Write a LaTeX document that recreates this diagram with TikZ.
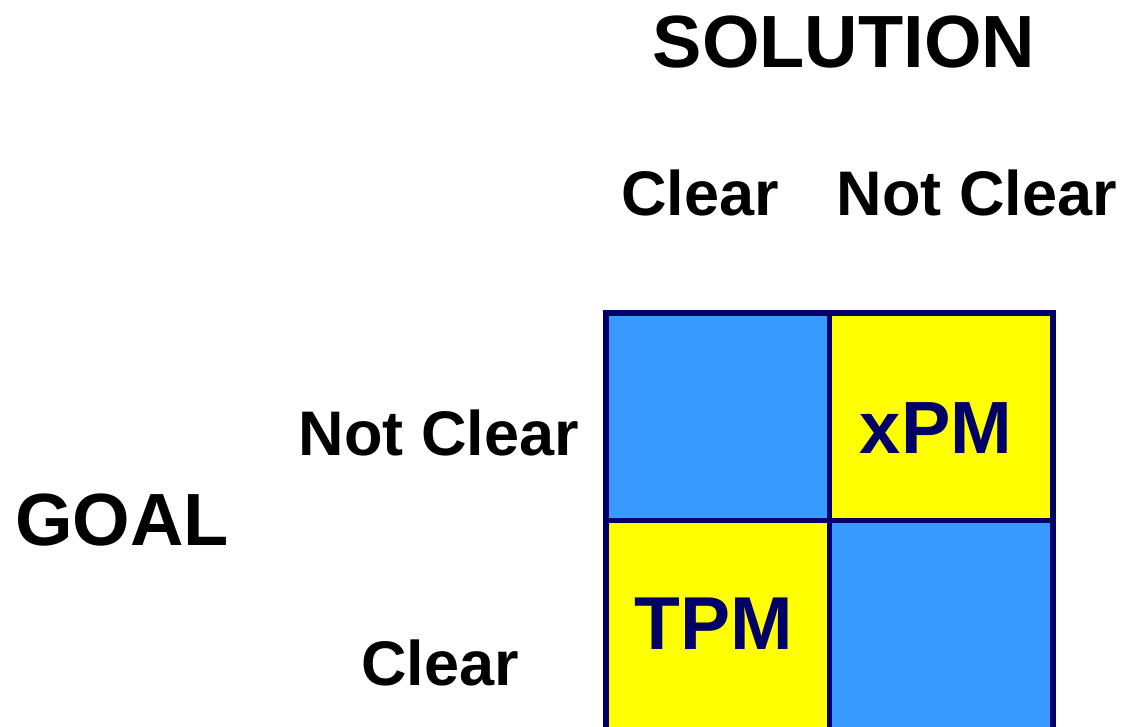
\documentclass[tikz,border=0pt]{standalone}
\usepackage{fontspec}
\setmainfont{Liberation Sans}
\definecolor{gridnavy}{HTML}{000066}
\definecolor{cellblue}{HTML}{3899FF}
\definecolor{cellyellow}{HTML}{FFFF00}
\begin{document}
\begin{tikzpicture}[x=1pt,y=-1pt,
  cell/.style={draw=gridnavy, line width=5.5pt, rectangle, minimum width=223.5pt, minimum height=207.5pt, inner sep=0pt},
  head/.style={anchor=base, font=\fontsize{74}{80}\selectfont\bfseries},
  axis/.style={anchor=base, font=\fontsize{63}{68}\selectfont\bfseries},
  tag/.style={anchor=base, text=gridnavy, font=\fontsize{75}{80}\selectfont\bfseries}]
\useasboundingbox (0,0) rectangle (1122,726);
% the 2x2 grid
\node[cell, fill=cellblue] (nc-c) at (717.5,416.75) {};
\node[cell, fill=cellyellow] (nc-nc) at (941.25,416.75) {};
\node[cell, fill=cellyellow, minimum height=212pt] (c-c) at (717.5,626.5) {};
\node[cell, fill=cellblue, minimum height=212pt] (c-nc) at (941.25,626.5) {};
% headings
\node[head] (solution) at (844,67) {SOLUTION};
\node[axis] (sclear) at (700,215) {Clear};
\node[axis] (snotclear) at (977,215) {Not Clear};
\node[head] (goal) at (122,545) {GOAL};
\node[axis] (gnotclear) at (439,455) {Not Clear};
\node[axis] (gclear) at (440,685) {Clear};
% cell labels
\node[tag, font=\fontsize{74}{80}\selectfont\bfseries] (xpm) at (936,453) {xPM};
\node[tag] (tpm) at (714,649) {TPM};
\end{tikzpicture}
\end{document}
